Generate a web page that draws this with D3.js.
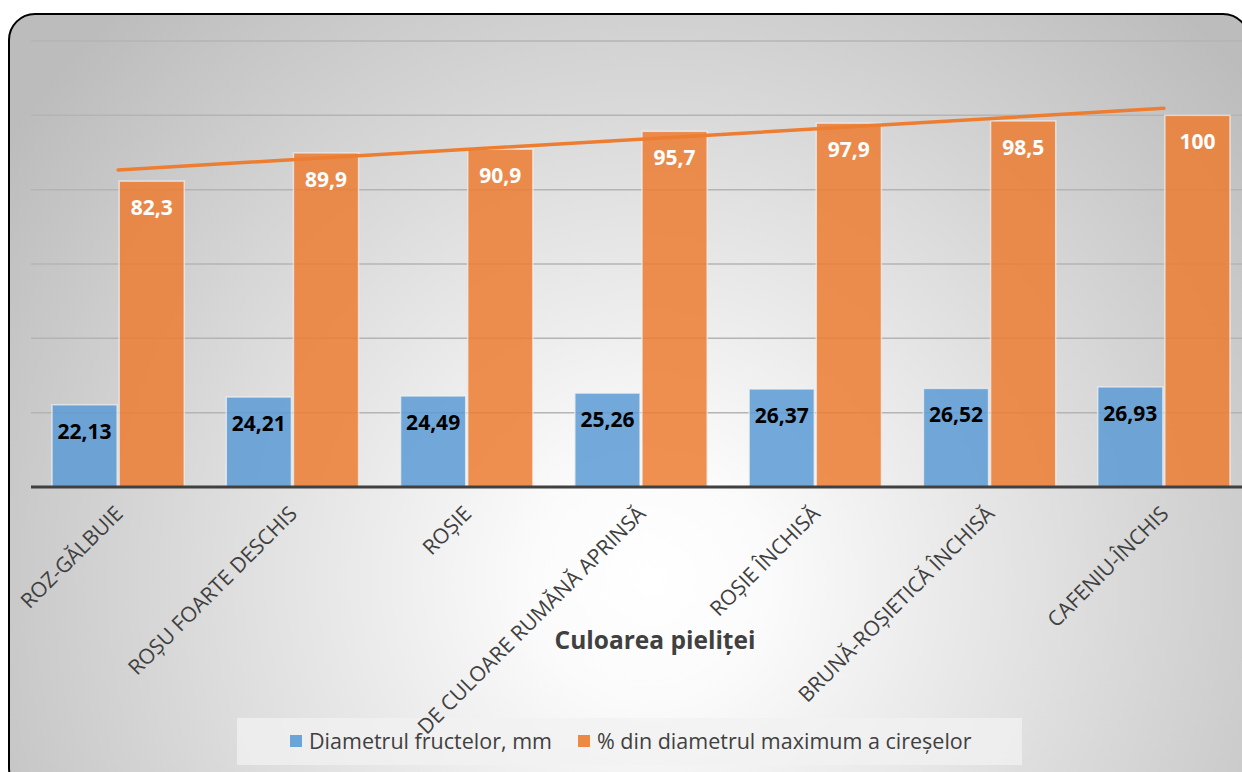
<!DOCTYPE html>
<html>
<head>
<meta charset="utf-8">
<script src="https://cdn.jsdelivr.net/npm/d3@7"></script>
<style>
  body { margin: 0; background: #fff; overflow: hidden; }
  svg { display: block; font-family: "Open Sans", Lato, sans-serif; }
</style>
</head>
<body>
<div id="chart"></div>
<script>
var svgWidth = 1242;
var svgHeight = 772;

// Data
var categories = ["ROZ-GĂLBUIE", "ROȘU FOARTE DESCHIS", "ROȘIE", "DE CULOARE RUMĂNĂ APRINSĂ",
  "ROȘIE ÎNCHISĂ", "BRUNĂ-ROȘIETICĂ ÎNCHISĂ", "CAFENIU-ÎNCHIS"];
var diameter = [22.13, 24.21, 24.49, 25.26, 26.37, 26.52, 26.93];
var percentOfMax = [82.3, 89.9, 90.9, 95.7, 97.9, 98.5, 100];
var seriesNames = ["Diametrul fructelor, mm", "% din diametrul maximum a cireșelor"];
var yTicks = [0, 20, 40, 60, 80, 100, 120];

var blue = "#5B9BD5";
var orange = "#ED7D31";

var svg = d3.select("#chart").append("svg")
  .attr("width", svgWidth)
  .attr("height", svgHeight);

// background gradient
var defs = svg.append("defs");
var grad = defs.append("radialGradient")
  .attr("id", "bg")
  .attr("gradientUnits", "userSpaceOnUse")
  .attr("cx", 650).attr("cy", 580).attr("r", 780);
grad.append("stop").attr("offset", "0%").attr("stop-color", "#ffffff");
grad.append("stop").attr("offset", "15%").attr("stop-color", "#fbfbfb");
grad.append("stop").attr("offset", "100%").attr("stop-color", "#bcbcbc");

svg.append("rect")
  .attr("x", 9).attr("y", 14)
  .attr("width", 1240).attr("height", 780)
  .attr("rx", 26).attr("ry", 26)
  .attr("fill", "url(#bg)")
  .attr("stroke", "#000")
  .attr("stroke-width", 2);

// scales
var plotLeft = 31, plotRight = 1251;
var baseY = 487, topY = 41;

var x0 = d3.scaleBand().domain(categories).range([plotLeft, plotRight]).padding(0);
var step = x0.step();
var x1 = d3.scaleBand().domain([0, 1]).range([21, step - 21]).paddingInner(0.03);
var y = d3.scaleLinear().domain([0, 120]).range([baseY, topY]);

// gridlines
svg.append("g").selectAll("line")
  .data(yTicks.filter(d => d > 0))
  .enter().append("line")
  .attr("x1", plotLeft).attr("x2", plotRight)
  .attr("y1", d => y(d)).attr("y2", d => y(d))
  .attr("stroke", "#b4b4b4")
  .attr("stroke-width", 1.5);

// bars
var groups = svg.append("g").selectAll("g")
  .data(categories)
  .enter().append("g")
  .attr("transform", d => `translate(${x0(d)},0)`);

groups.append("rect")
  .attr("x", x1(0))
  .attr("width", x1.bandwidth())
  .attr("y", (d, i) => y(diameter[i]))
  .attr("height", (d, i) => baseY - y(diameter[i]))
  .attr("fill", blue).attr("fill-opacity", 0.85)
  .attr("stroke", "#f2f2f2").attr("stroke-opacity", 0.7).attr("stroke-width", 1.5);

groups.append("rect")
  .attr("x", x1(1))
  .attr("width", x1.bandwidth())
  .attr("y", (d, i) => y(percentOfMax[i]))
  .attr("height", (d, i) => baseY - y(percentOfMax[i]))
  .attr("fill", orange).attr("fill-opacity", 0.85)
  .attr("stroke", "#f2f2f2").attr("stroke-opacity", 0.7).attr("stroke-width", 1.5);

// data labels
var fmt = v => String(v).replace(".", ",");
groups.append("text")
  .attr("x", x1(0) + x1.bandwidth() / 2)
  .attr("y", (d, i) => y(diameter[i]) + 34)
  .attr("text-anchor", "middle")
  .attr("font-size", "21px").attr("font-weight", "bold")
  .attr("fill", "#000")
  .text((d, i) => fmt(diameter[i]));

groups.append("text")
  .attr("x", x1(1) + x1.bandwidth() / 2)
  .attr("y", (d, i) => y(percentOfMax[i]) + 34)
  .attr("text-anchor", "middle")
  .attr("font-size", "21px").attr("font-weight", "bold")
  .attr("fill", "#fff")
  .text((d, i) => fmt(percentOfMax[i]));

// linear trendline of the orange series
var n = percentOfMax.length;
var xs = d3.range(1, n + 1);
var mx = d3.mean(xs), my = d3.mean(percentOfMax);
var slope = d3.sum(xs, (v, i) => (v - mx) * (percentOfMax[i] - my)) / d3.sum(xs, v => (v - mx) * (v - mx));
var intercept = my - slope * mx;
var trend = [1, n].map(k => [x0(categories[k - 1]) + step / 2, y(intercept + slope * k)]);

svg.append("path")
  .attr("d", d3.line()(trend))
  .attr("fill", "none")
  .attr("stroke", orange)
  .attr("stroke-width", 3.5)
  .attr("stroke-linecap", "round");

// baseline
svg.append("line")
  .attr("x1", plotLeft).attr("x2", plotRight)
  .attr("y1", baseY).attr("y2", baseY)
  .attr("stroke", "#404040").attr("stroke-width", 3);

// legend
var legend = svg.append("g");
legend.append("rect")
  .attr("x", 237).attr("y", 718)
  .attr("width", 785).attr("height", 47)
  .attr("fill", "#f2f2f2").attr("fill-opacity", 0.75);

var legendX = [290, 578];
seriesNames.forEach(function(name, i) {
  legend.append("rect")
    .attr("x", legendX[i]).attr("y", 735)
    .attr("width", 12).attr("height", 12)
    .attr("fill", i === 0 ? blue : orange).attr("fill-opacity", 0.9);
  legend.append("text")
    .attr("x", legendX[i] + 19).attr("y", 749)
    .attr("font-size", "21.5px")
    .attr("fill", "#404040")
    .text(name);
});

// x labels (rotated)
svg.append("g").selectAll("text")
  .data(categories)
  .enter().append("text")
  .attr("transform", d => `translate(${x0(d) + step / 2 + 6},${baseY + 28}) rotate(-45)`)
  .attr("text-anchor", "end")
  .attr("font-size", "21px")
  .attr("fill", "#404040")
  .text(d => d);

// axis title
svg.append("text")
  .attr("x", 655).attr("y", 649)
  .attr("text-anchor", "middle")
  .attr("font-size", "24.5px").attr("font-weight", "bold")
  .attr("fill", "#404040")
  .text("Culoarea pieliței");
</script>
</body>
</html>
